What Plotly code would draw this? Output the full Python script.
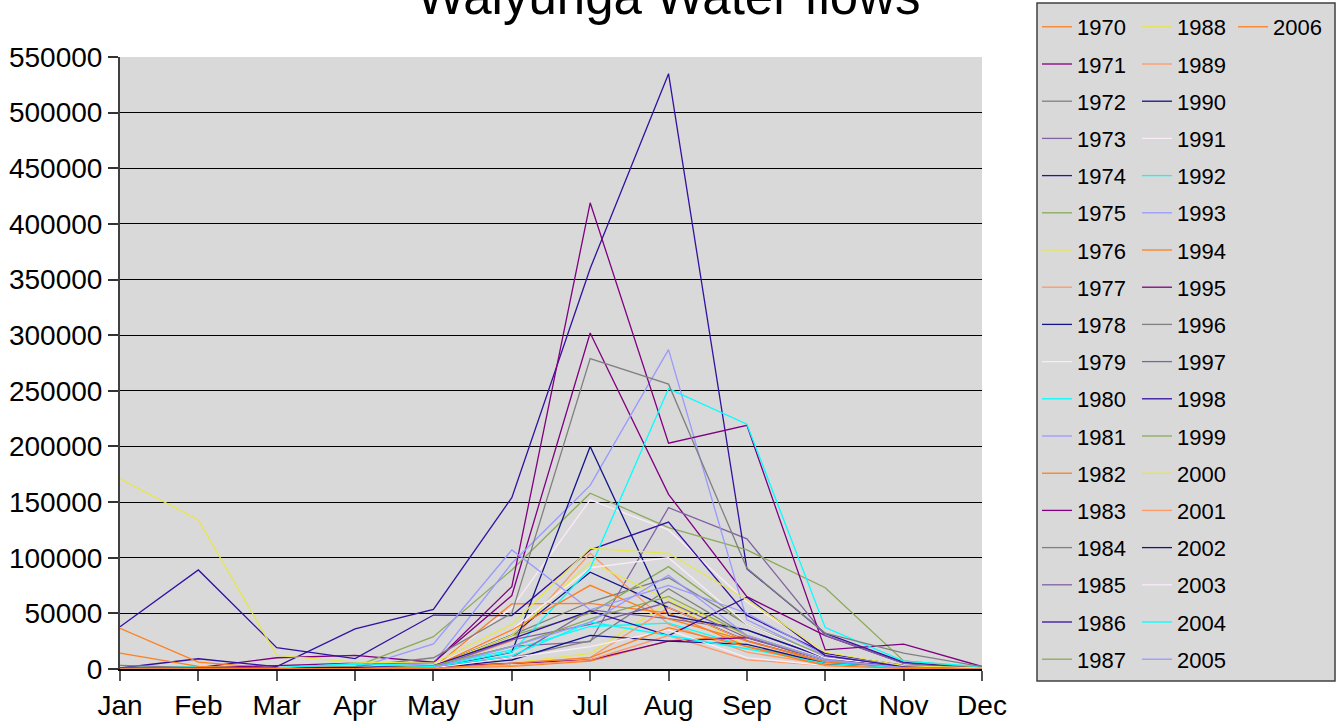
import plotly.graph_objects as go

months = ["Jan", "Feb", "Mar", "Apr", "May", "Jun", "Jul", "Aug", "Sep", "Oct", "Nov", "Dec"]
y_ticks = [0, 50000, 100000, 150000, 200000, 250000, 300000, 350000, 400000, 450000, 500000, 550000]

f1970 = [310, 120, 80, 150, 900, 2400, 7100, 25300, 29800, 5200, 900, 200]
f1971 = [400, 1200, 10100, 12200, 6100, 66000, 302000, 157000, 65000, 30000, 5200, 900]
f1972 = [200, 100, 60, 300, 2100, 30500, 60200, 82000, 40100, 10200, 2100, 400]
f1973 = [150, 90, 70, 900, 3100, 20300, 24500, 145000, 117000, 30200, 5100, 900]
f1974 = [900, 9200, 2100, 36000, 53500, 154000, 360000, 535000, 90000, 32000, 6200, 1100]
f1975 = [300, 200, 150, 2200, 29000, 89000, 158000, 127000, 107000, 73000, 7200, 1200]
f1976 = [100, 60, 40, 200, 1100, 5200, 14100, 60100, 20200, 6100, 1100, 200]
f1977 = [120, 80, 60, 300, 1300, 25200, 104000, 40300, 15200, 4100, 1000, 200]
f1978 = [200, 100, 90, 400, 2200, 30300, 87000, 55200, 25300, 6200, 1200, 300]
f1979 = [150, 90, 60, 300, 2300, 55000, 152000, 125000, 60200, 15200, 3100, 400]
f1980 = [1200, 2100, 1300, 4200, 3300, 17100, 38200, 41200, 20300, 5300, 1300, 300]
f1981 = [200, 100, 80, 400, 5200, 95000, 165000, 287000, 44200, 10300, 2200, 400]
f1982 = [36500, 6200, 300, 200, 1200, 58500, 59000, 50300, 20200, 4200, 1100, 200]
f1983 = [1100, 900, 3100, 5200, 5300, 74000, 419000, 203000, 219000, 17200, 22300, 2200]
f1984 = [3200, 1200, 300, 200, 1100, 10200, 25300, 72200, 30200, 8100, 2100, 300]
f1985 = [200, 300, 1100, 1200, 2100, 10300, 53100, 45200, 35200, 10100, 2200, 400]
f1986 = [38000, 89000, 19200, 9300, 48500, 48000, 107000, 132000, 48200, 14100, 3200, 900]
f1987 = [100, 80, 60, 400, 2200, 30100, 50200, 92000, 40200, 12100, 2100, 300]
f1988 = [150, 90, 70, 300, 2100, 30200, 96000, 62100, 30200, 8200, 1200, 200]
f1989 = [80, 60, 40, 200, 1100, 5100, 10200, 55200, 25100, 6100, 1100, 200]
f1990 = [200, 100, 80, 300, 1200, 15100, 200000, 48200, 35100, 10200, 2100, 300]
f1991 = [150, 100, 80, 400, 3100, 35200, 91000, 100000, 40100, 10100, 2100, 300]
f1992 = [300, 1100, 1200, 1300, 2200, 15200, 90500, 252000, 220000, 37200, 7100, 2100]
f1993 = [200, 100, 90, 600, 22500, 107000, 53200, 75200, 50100, 12200, 2200, 400]
f1994 = [14200, 2300, 300, 200, 2100, 35100, 75200, 45100, 25200, 6100, 1100, 200]
f1995 = [150, 100, 80, 1100, 2200, 5100, 8200, 25100, 28200, 8100, 2100, 300]
f1996 = [200, 150, 1100, 2200, 10100, 50200, 279000, 256000, 90500, 32200, 14200, 2100]
f1997 = [100, 80, 60, 300, 1200, 26200, 40100, 60200, 28100, 8200, 1100, 200]
f1998 = [200, 1100, 1200, 1300, 3100, 27100, 52200, 30100, 64500, 12100, 2100, 300]
f1999 = [100, 80, 60, 300, 3100, 20200, 45100, 65200, 30100, 8100, 1200, 200]
f2000 = [171000, 134000, 12200, 6100, 5200, 40100, 108500, 104000, 62200, 15100, 3100, 900]
f2001 = [50, 40, 30, 100, 400, 3100, 8200, 30100, 8200, 3100, 500, 100]
f2002 = [100, 80, 60, 200, 1100, 8100, 30200, 25100, 22200, 5100, 1100, 200]
f2003 = [80, 60, 40, 200, 1100, 10200, 20100, 35100, 10200, 3100, 600, 100]
f2004 = [300, 600, 900, 5100, 2200, 12100, 42200, 30100, 18200, 5100, 1100, 200]
f2005 = [100, 80, 60, 200, 1200, 20100, 42100, 84200, 30200, 8100, 1200, 200]
f2006 = [60, 40, 30, 100, 500, 5100, 10200, 37100, 20100, 3100, 500, 100]

years = list(range(1970, 2007))
series = [f1970, f1971, f1972, f1973, f1974, f1975, f1976, f1977, f1978, f1979,
          f1980, f1981, f1982, f1983, f1984, f1985, f1986, f1987, f1988, f1989,
          f1990, f1991, f1992, f1993, f1994, f1995, f1996, f1997, f1998, f1999,
          f2000, f2001, f2002, f2003, f2004, f2005, f2006]

palette = ["#FF7F1E", "#800080", "#808080", "#8064A2", "#3311A0", "#8AAA5A",
           "#E6E64C", "#FF9966", "#14148A", "#FBEAF8", "#00FFFF", "#9999FF"]

FONT = "Liberation Sans, Arial, sans-serif"

fig = go.Figure()
for i, (yr, vals) in enumerate(zip(years, series)):
    if yr <= 1987:
        leg = "legend"
    elif yr <= 2005:
        leg = "legend2"
    else:
        leg = "legend3"
    fig.add_trace(go.Scatter(
        x=months, y=vals, mode="lines", name=str(yr),
        line=dict(color=palette[i % 12], width=1.3),
        legend=leg, legendgroup=str(yr),
    ))

# plot area: x 120..982, y 57..669 (px)
W, H = 1342, 721
L, R, T, B = 120, 360, 57, 52
pw, ph = W - L - R, H - T - B

def px_x(x):
    return (x - L) / pw

def px_y(y):
    return (H - B - y) / ph

legend_common = dict(
    bgcolor="rgba(0,0,0,0)", borderwidth=0,
    font=dict(family=FONT, size=22, color="black"),
    traceorder="grouped", tracegroupgap=5.6,
    xanchor="left", yanchor="top", yref="container", y=1 - 6 / H,
    orientation="v", maxheight=715,
)

fig.update_layout(
    width=W, height=H,
    margin=dict(l=L, r=R, t=T, b=B, pad=0, autoexpand=False),
    paper_bgcolor="white",
    plot_bgcolor="#D9D9D9",
    font=dict(family=FONT, size=28, color="black"),
    showlegend=True,
    legend=dict(legend_common, x=px_x(1037)),
    legend2=dict(legend_common, x=px_x(1137)),
    legend3=dict(legend_common, x=px_x(1233)),
    xaxis=dict(
        type="category", categoryorder="array", categoryarray=months,
        range=[0, 11], showgrid=False, zeroline=False,
        showline=True, linecolor="black", linewidth=2,
        ticks="outside", ticklen=10, tickwidth=1.5, tickcolor="#555555",
        tickfont=dict(family=FONT, size=28, color="black"),
    ),
    yaxis=dict(
        range=[0, 550000], tickvals=y_ticks, tickformat="d",
        showgrid=True, gridcolor="black", gridwidth=1, zeroline=False,
        showline=True, linecolor="#404040", linewidth=2,
        ticks="outside", ticklen=10, tickwidth=1.5, tickcolor="#333333",
        tickfont=dict(family=FONT, size=28, color="black"),
    ),
    shapes=[dict(
        type="rect", xref="paper", yref="paper",
        x0=px_x(1037), x1=px_x(1335), y0=px_y(681), y1=px_y(3),
        fillcolor="#D9D9D9", line=dict(color="#404040", width=1.5),
        layer="above",
    )],
    annotations=[dict(
        text="Walyunga Water flows", xref="paper", yref="paper",
        x=px_x(668.5), y=px_y(27), xanchor="center", yanchor="bottom",
        showarrow=False, font=dict(family=FONT, size=51, color="black"),
    )],
)

fig.write_html(
    "out.html",
    config={"displayModeBar": False},
    post_script="document.body.style.margin='0px';document.body.style.overflow='hidden';",
)
